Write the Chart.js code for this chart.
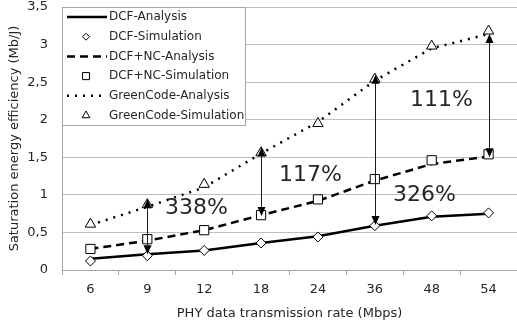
<!DOCTYPE html>
<html>
<head>
<meta charset="utf-8">
<script src="https://cdn.jsdelivr.net/npm/chart.js@4.4.1/dist/chart.umd.min.js"></script>
<style>
  body { margin: 0; background: #fff; }
  #wrap { width: 517px; height: 325px; }
</style>
</head>
<body>
<div id="wrap"><canvas id="chart-area" width="517" height="325"></canvas></div>
<script>
// x categories (Mbps)
var rates = ['6', '9', '12', '18', '24', '36', '48', '54'];

// energy efficiency (Mb/J)
var dcfAnalysis    = [0.15, 0.21, 0.26, 0.36, 0.45, 0.59, 0.71, 0.75];
var dcfSim         = [0.12, 0.19, 0.26, 0.36, 0.44, 0.59, 0.72, 0.76];
var dcfNcAnalysis  = [0.28, 0.39, 0.53, 0.73, 0.92, 1.19, 1.41, 1.51];
var dcfNcSim       = [0.28, 0.41, 0.53, 0.73, 0.94, 1.21, 1.46, 1.54];
var greenAnalysis  = [0.60, 0.84, 1.10, 1.55, 1.97, 2.52, 2.95, 3.14];
var greenSim       = [0.61, 0.87, 1.14, 1.56, 1.95, 2.54, 2.98, 3.18];

// gain arrows
var gainCats   = ['9', '18', '36', '54'];
var gainTop    = [0.94, 1.63, 2.60, 3.14];
var gainBottom = [0.21, 0.72, 0.60, 1.50];
var gainText   = ['338%', '117%', '326%', '111%'];
var gainTextY  = [0.82, 1.26, 0.99, 2.26];

var yTicks = [0, 0.5, 1, 1.5, 2, 2.5, 3, 3.5];

var TEXT = '#262626';
var GRID = '#bfbfbf';
var FONT = "'DejaVu Sans', sans-serif";

// arrows + percent labels
var gainPlugin = {
  id: 'gain',
  afterDatasetsDraw: function(chart) {
    var ctx = chart.ctx;
    var xs = chart.scales.x, ys = chart.scales.y;
    ctx.save();
    for (var i = 0; i < gainCats.length; i++) {
      var x = Math.round(xs.getPixelForValue(rates.indexOf(gainCats[i]))) + 0.5;
      var y1 = ys.getPixelForValue(gainTop[i]);
      var y2 = ys.getPixelForValue(gainBottom[i]);
      var hh = 9, hw = 4;
      ctx.strokeStyle = '#1a1a1a';
      ctx.fillStyle = '#000';
      ctx.lineWidth = 1;
      ctx.beginPath();
      ctx.moveTo(x, y1 + hh);
      ctx.lineTo(x, y2 - hh);
      ctx.stroke();
      ctx.beginPath();
      ctx.moveTo(x, y1);
      ctx.lineTo(x - hw, y1 + hh);
      ctx.lineTo(x + hw, y1 + hh);
      ctx.closePath();
      ctx.fill();
      ctx.beginPath();
      ctx.moveTo(x, y2);
      ctx.lineTo(x - hw, y2 - hh);
      ctx.lineTo(x + hw, y2 - hh);
      ctx.closePath();
      ctx.fill();

      var dx = i === gainCats.length - 1 ? -48 : 49;
      ctx.font = '22px ' + FONT;
      ctx.fillStyle = TEXT;
      ctx.textAlign = 'center';
      ctx.textBaseline = 'middle';
      ctx.fillText(gainText[i], x + dx, ys.getPixelForValue(gainTextY[i]));
    }
    ctx.restore();
  }
};

// legend box inside the plot, top-left
var legendMarkR = { rectRot: 3.5, rect: 5, triangle: 4.5 };
var boxLegend = {
  id: 'boxLegend',
  afterDraw: function(chart) {
    var ctx = chart.ctx;
    var a = chart.chartArea;
    var left = a.left, top = a.top;
    ctx.save();
    ctx.fillStyle = '#fff';
    ctx.fillRect(left, top, 183, 118);
    ctx.strokeStyle = '#a6a6a6';
    ctx.lineWidth = 1;
    ctx.strokeRect(left + 0.5, top + 0.5, 183, 118);
    chart.data.datasets.forEach(function(ds, i) {
      var y = top + 10 + i * 19.7;
      if (ds.showLine !== false) {
        ctx.strokeStyle = ds.borderColor;
        ctx.lineWidth = ds.borderWidth;
        ctx.setLineDash(ds.borderDash || []);
        ctx.beginPath();
        ctx.moveTo(left + 5, y);
        ctx.lineTo(left + 45, y);
        ctx.stroke();
        ctx.setLineDash([]);
      } else {
        ctx.fillStyle = '#fff';
        ctx.strokeStyle = '#000';
        ctx.lineWidth = 1;
        Chart.helpers.drawPoint(ctx, {
          pointStyle: ds.pointStyle,
          rotation: 0,
          radius: legendMarkR[ds.pointStyle],
          borderWidth: 1
        }, left + 24, y);
      }
      ctx.fillStyle = TEXT;
      ctx.font = '12px ' + FONT;
      ctx.textAlign = 'left';
      ctx.textBaseline = 'middle';
      ctx.fillText(ds.label, left + 47, y);
    });
    ctx.restore();
  }
};

function lineSet(label, data, dash) {
  return {
    label: label, data: data, borderColor: '#000', borderWidth: 2.5,
    borderDash: dash, pointRadius: 0, tension: 0, fill: false, order: 1
  };
}
function pointSet(label, data, style, r) {
  return {
    label: label, data: data, showLine: false, pointStyle: style,
    pointRadius: r, pointBackgroundColor: '#fff', pointBorderColor: '#000',
    pointBorderWidth: 1, backgroundColor: '#fff', borderColor: '#000', order: 0
  };
}

var config = {
  type: 'line',
  data: {
    labels: rates,
    datasets: [
      lineSet('DCF-Analysis', dcfAnalysis, []),
      pointSet('DCF-Simulation', dcfSim, 'rectRot', 5),
      lineSet('DCF+NC-Analysis', dcfNcAnalysis, [8, 5]),
      pointSet('DCF+NC-Simulation', dcfNcSim, 'rect', 6.5),
      lineSet('GreenCode-Analysis', greenAnalysis, [2, 6]),
      pointSet('GreenCode-Simulation', greenSim, 'triangle', 6)
    ]
  },
  options: {
    responsive: false,
    animation: false,
    layout: { autoPadding: false, padding: { top: 7, right: 0, left: 0, bottom: 0 } },
    plugins: { legend: { display: false }, tooltip: { enabled: false } },
    scales: {
      x: {
        offset: true,
        grid: { offset: true, drawOnChartArea: false, drawTicks: true, tickLength: 5, color: '#a6a6a6' },
        border: { color: '#a6a6a6' },
        ticks: { color: TEXT, font: { family: FONT, size: 13 }, padding: 7, maxRotation: 0 },
        title: { display: true, text: 'PHY data transmission rate (Mbps)', color: TEXT,
                 font: { family: FONT, size: 13 }, padding: { top: 0, bottom: 4 } },
        afterFit: function(s) { s.height = 55; s.paddingLeft = 0; s.paddingRight = 0; }
      },
      y: {
        min: 0, max: 3.5,
        afterBuildTicks: function(s) { s.ticks = yTicks.map(function(v) { return { value: v }; }); },
        grid: { color: GRID, drawTicks: false },
        border: { color: '#a6a6a6' },
        ticks: { color: TEXT, font: { family: FONT, size: 13 }, padding: 14,
                 callback: function(v) { return String(v).replace('.', ','); } },
        title: { display: true, text: 'Saturation energy efficiency (Mb/J)', color: TEXT,
                 font: { family: FONT, size: 13 }, padding: { top: 7, bottom: 0 } },
        afterFit: function(s) { s.width = 62; s.paddingTop = 0; s.paddingBottom = 0; }
      }
    }
  },
  plugins: [gainPlugin, boxLegend]
};

var ctx = document.getElementById('chart-area').getContext('2d');
window.myChart = new Chart(ctx, config);
</script>
</body>
</html>
